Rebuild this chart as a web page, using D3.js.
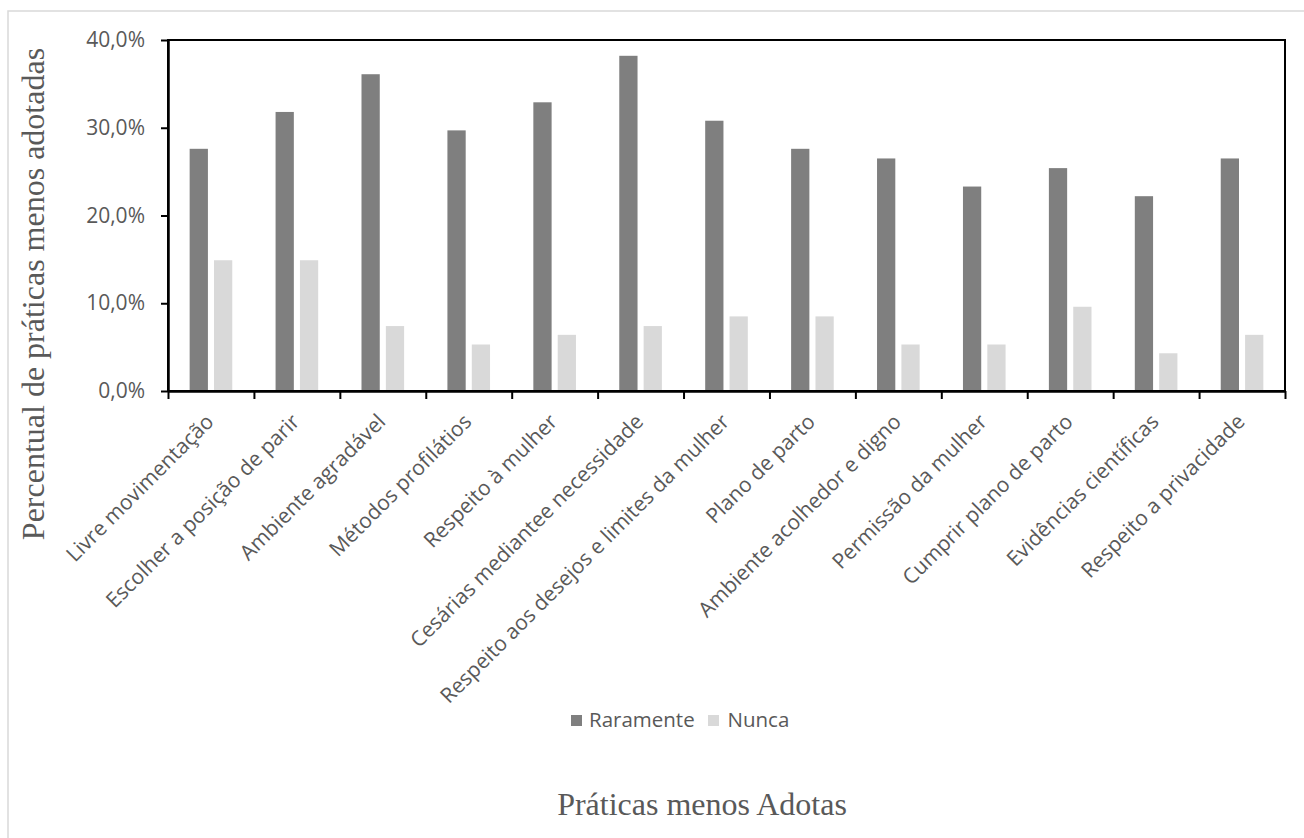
<!DOCTYPE html>
<html>
<head>
<meta charset="utf-8">
<script src="https://cdn.jsdelivr.net/npm/d3@7"></script>
<style>
  html, body { margin: 0; padding: 0; background: #fff; }
  svg { display: block; }
</style>
</head>
<body>
<svg id="chart" width="1304" height="838"></svg>
<script>
// Practices and the share of respondents who answered "Raramente" / "Nunca"
const categories = [
  "Livre movimentação",
  "Escolher a posição de parir",
  "Ambiente agradável",
  "Métodos profilátios",
  "Respeito à mulher",
  "Cesárias mediantee necessidade",
  "Respeito aos desejos e limites da mulher",
  "Plano de parto",
  "Ambiente acolhedor e digno",
  "Permissão da mulher",
  "Cumprir plano de parto",
  "Evidências científicas",
  "Respeito a privacidade"
];
const seriesNames = ["Raramente", "Nunca"];
const raramente = [27.6, 31.8, 36.1, 29.7, 32.9, 38.2, 30.8, 27.6, 26.5, 23.3, 25.4, 22.2, 26.5];
const nunca     = [14.9, 14.9, 7.4, 5.3, 6.4, 7.4, 8.5, 8.5, 5.3, 5.3, 9.6, 4.3, 6.4];
const yTicks = [0, 10, 20, 30, 40];
const yTitle = "Percentual de práticas menos adotadas";
const xTitle = "Práticas menos Adotas";

const colors = { "Raramente": "#7f7f7f", "Nunca": "#d9d9d9" };
const textColor = "#595959";
const sans = "'Open Sans', 'Noto Sans', sans-serif";
const serif = "'Liberation Serif', 'DejaVu Serif', serif";

const svg = d3.select("#chart");

// outer chart frame
svg.append("rect")
  .attr("x", 8).attr("y", 11)
  .attr("width", 1400).attr("height", 900)
  .attr("fill", "none").attr("stroke", "#d9d9d9").attr("stroke-width", 1.5);

const plot = { left: 168, right: 1285, top: 40, bottom: 391 };

const x0 = d3.scaleBand().domain(categories).range([plot.left, plot.right]).padding(0);
const groupWidth = x0.bandwidth() * 0.496;
const x1 = d3.scaleBand().domain(seriesNames).range([0, groupWidth]).paddingInner(0.25).paddingOuter(0);
const y = d3.scaleLinear().domain([0, 40]).range([plot.bottom, plot.top]);

const rows = categories.map((c, i) => ({ cat: c, values: [
  { key: "Raramente", value: raramente[i] },
  { key: "Nunca", value: nunca[i] }
]}));

// bars
const groups = svg.append("g").selectAll("g").data(rows).join("g")
  .attr("transform", d => `translate(${x0(d.cat) + (x0.bandwidth() - groupWidth) / 2},0)`);
groups.selectAll("rect").data(d => d.values).join("rect")
  .attr("x", d => x1(d.key))
  .attr("y", d => y(d.value))
  .attr("width", x1.bandwidth())
  .attr("height", d => y(0) - y(d.value))
  .attr("fill", d => colors[d.key]);

// plot frame (top and right edges)
svg.append("rect")
  .attr("x", plot.left).attr("y", plot.top)
  .attr("width", plot.right - plot.left).attr("height", plot.bottom - plot.top)
  .attr("fill", "none").attr("stroke", "#000").attr("stroke-width", 2);

// y axis
const yAxis = svg.append("g")
  .attr("transform", `translate(${plot.left},0)`)
  .call(d3.axisLeft(y).tickValues(yTicks)
    .tickFormat(d => d.toFixed(1).replace(".", ",") + "%")
    .tickSize(7).tickSizeOuter(0).tickPadding(16));
yAxis.select(".domain").attr("stroke", "#000").attr("stroke-width", 2.5);
yAxis.selectAll(".tick line").attr("stroke", "#000").attr("stroke-width", 2);
yAxis.selectAll(".tick text")
  .attr("fill", textColor).style("font-family", sans).style("font-size", "21px");

// x axis: tick marks on category boundaries
const xEdge = d3.scaleLinear().domain([0, categories.length]).range([plot.left, plot.right]);
const xAxis = svg.append("g")
  .attr("transform", `translate(0,${plot.bottom})`)
  .call(d3.axisBottom(xEdge).tickValues(d3.range(categories.length + 1))
    .tickFormat("").tickSize(8).tickSizeOuter(0));
xAxis.select(".domain").attr("stroke", "#000").attr("stroke-width", 2.5);
xAxis.selectAll(".tick line").attr("stroke", "#000").attr("stroke-width", 2);

// rotated category labels
svg.append("g").selectAll("text").data(categories).join("text")
  .attr("transform", d => `translate(${x0(d) + x0.bandwidth() / 2 + 4},${plot.bottom + 32}) rotate(-45)`)
  .attr("text-anchor", "end")
  .attr("fill", textColor)
  .style("font-family", sans).style("font-size", "21px")
  .text(d => d);

// legend
const legendItems = [
  { key: "Raramente", box: 571, text: 589 },
  { key: "Nunca", box: 708, text: 727.5 }
];
const legend = svg.append("g");
legend.selectAll("rect").data(legendItems).join("rect")
  .attr("x", d => d.box).attr("y", 715)
  .attr("width", 11).attr("height", 11)
  .attr("fill", d => colors[d.key]);
legend.selectAll("text").data(legendItems).join("text")
  .attr("x", d => d.text).attr("y", 727)
  .attr("fill", textColor)
  .style("font-family", sans).style("font-size", "20.5px")
  .text(d => d.key);

// axis titles
svg.append("text")
  .attr("transform", "translate(44,294) rotate(-90)")
  .attr("text-anchor", "middle")
  .attr("fill", textColor)
  .style("font-family", serif).style("font-size", "32px")
  .text(yTitle);

svg.append("text")
  .attr("x", 702).attr("y", 815)
  .attr("text-anchor", "middle")
  .attr("fill", textColor)
  .style("font-family", serif).style("font-size", "32px")
  .text(xTitle);
</script>
</body>
</html>
